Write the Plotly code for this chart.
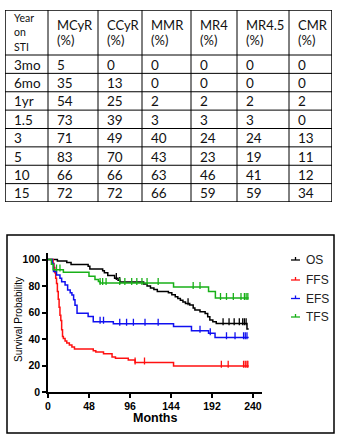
import numpy as np
import plotly.graph_objects as go

# ---------------- table data ----------------
first_header = ["Year", "on", "STI"]
measure_names = ["MCyR", "CCyR", "MMR", "MR4", "MR4.5", "CMR"]
unit_label = "(%)"
years = ["3mo", "6mo", "1yr", "1.5", "3", "5", "10", "15"]
mcyr = [5, 35, 54, 73, 71, 83, 66, 72]
ccyr = [0, 13, 25, 39, 49, 70, 66, 72]
mmr = [0, 0, 2, 3, 40, 43, 63, 66]
mr4 = [0, 0, 2, 3, 24, 23, 46, 59]
mr45 = [0, 0, 2, 3, 24, 19, 41, 59]
cmr = [0, 0, 2, 0, 13, 11, 12, 34]

# ---------------- survival data (months, %) ----------------
os_t = [0, 11, 22, 27, 47, 49, 64, 66, 70, 78, 82, 84, 112, 116, 120, 124, 128, 141, 145,
        149, 152, 155, 158, 161, 166, 170, 172, 178, 184, 187, 189.5, 193, 197, 233, 235]
os_s = [100, 99, 97.8, 96.3, 95, 93, 91.5, 90, 88, 86, 84.5, 83, 81.5, 80, 78.5, 77.5, 76, 75, 73.5,
        72, 70.7, 69.4, 68, 66.9, 65.7, 63.5, 62, 60.6, 59.3, 56.8, 54.3, 53, 51.8, 47.5, 47.5]
os_c = [80, 84, 164, 205, 212, 218, 224, 228, 230, 232]

ffs_t = [0, 6, 7, 8, 9, 10, 11, 12, 13, 14, 15, 16, 17, 18, 20, 22, 25, 28, 31, 53, 56, 65,
         75, 79, 94, 102, 147, 235]
ffs_s = [100, 97, 94, 90, 86, 82, 76, 70, 64, 58, 54, 47, 42, 40.5, 38.5, 37, 35.5, 34, 32.5,
         31.2, 30.3, 28.8, 26.5, 25.5, 24.2, 22.2, 19.7, 19.7]
ffs_c = [102, 113, 203, 211, 229, 231, 233, 234]

efs_t = [0, 5, 6.5, 10, 14, 16, 20, 23, 26, 28, 30, 31.6, 34, 47, 53, 76.5, 147, 168, 188,
         195.6, 235]
efs_s = [100, 97, 91, 88.4, 86, 83.3, 80.8, 77, 75, 73.2, 69.7, 65.6, 59.5, 57, 53, 51.5,
         49.5, 46.2, 44.4, 41.2, 41.2]
efs_c = [61, 65, 84, 92, 100, 113.6, 129, 178, 190, 209, 219, 229, 231, 233]

tfs_t = [0, 4, 6, 18, 48, 55, 59, 61, 147, 188, 196, 235]
tfs_s = [100, 96.5, 92.4, 90.5, 87.4, 85, 83.5, 82.3, 79.3, 76, 71, 71]
tfs_c = [10, 14, 61, 64, 68, 84, 90, 98, 104, 110, 116, 129, 170, 178, 202, 209, 217, 226,
         230, 232, 234]

series = [
    ("OS", os_t, os_s, os_c, "#000000"),
    ("FFS", ffs_t, ffs_s, ffs_c, "#FF1010"),
    ("EFS", efs_t, efs_s, efs_c, "#1010F0"),
    ("TFS", tfs_t, tfs_s, tfs_c, "#18B018"),
]
x_ticks = [0, 48, 96, 144, 192, 240]
y_ticks = [0, 20, 40, 60, 80, 100]

# ---------------- layout constants (pixels) ----------------
W, H = 342, 445
col_w = [43, 50, 44, 49, 46, 52, 43]
header_h = 45
row_h = 18.375


def px(x):
    return x / W


def py(y):
    return 1 - y / H


fig = go.Figure()

# ---------------- table drawn on its own hidden axes ----------------
col_edges = np.concatenate([[0], np.cumsum(col_w)])
n_rows = len(years)
row_edges = header_h + row_h * np.arange(n_rows + 1)
table_w = col_edges[-1]
table_h = row_edges[-1]

annotations = []
shapes = []
tfont_h = dict(family="Lato", size=13, color="#111")
tfont_b = dict(family="Lato", size=13.5, color="#111")


def tcell(text, x, y, font):
    annotations.append(dict(text=str(text), x=x, y=y, xref="x2", yref="y2", xanchor="left",
                            yanchor="middle", showarrow=False, font=font))


for k, word in enumerate(first_header):
    tcell(word, col_edges[0] + 7, 7.5 + 14.5 * k, dict(family="Lato", size=10.5, color="#111"))
for j, name in enumerate(measure_names):
    tcell(name, col_edges[j + 1] + 7, 15, tfont_h)
    tcell(unit_label, col_edges[j + 1] + 7, 29.5, tfont_h)

columns = [years, mcyr, ccyr, mmr, mr4, mr45, cmr]
for j, col in enumerate(columns):
    for i, v in enumerate(col):
        tcell(v, col_edges[j] + 7, (row_edges[i] + row_edges[i + 1]) / 2 + 0.5, tfont_b)

for k, xe in enumerate(col_edges):
    outer = k in (0, len(col_edges) - 1)
    shapes.append(dict(type="line", xref="x2", yref="y2", x0=xe, x1=xe, y0=0, y1=table_h,
                       line=dict(color="black", width=1.5 if outer else 1)))
for k, ye in enumerate(np.concatenate([[0], row_edges])):
    outer = k in (0, n_rows + 1)
    shapes.append(dict(type="line", xref="x2", yref="y2", x0=0, x1=table_w, y0=ye, y1=ye,
                       line=dict(color="black", width=1.5 if outer else 1)))

# invisible anchor trace for table axes
fig.add_trace(go.Scatter(x=[0, table_w], y=[0, table_h], xaxis="x2", yaxis="y2", mode="markers",
                         marker=dict(opacity=0), showlegend=False, hoverinfo="skip"))

# ---------------- survival curves ----------------


def step_at(t, times, vals):
    i = np.searchsorted(np.asarray(times), t, side="right") - 1
    return vals[max(i, 0)]


for name, t, s, c, col in series:
    fig.add_trace(go.Scatter(x=t, y=s, mode="lines", line=dict(color=col, width=1.5, shape="hv"),
                             showlegend=False, hoverinfo="skip"))
    cy = [step_at(ct, t, s) + 1.2 for ct in c]
    fig.add_trace(go.Scatter(x=c, y=cy, mode="markers",
                             marker=dict(symbol="line-ns", size=5, line=dict(color=col, width=1.3)),
                             showlegend=False, hoverinfo="skip"))

axis_font = dict(family="Liberation Sans", size=10.5, color="black", weight="bold")
fig.update_layout(
    xaxis=dict(domain=[px(48), px(261.5)], range=[0, 250], tickvals=x_ticks, automargin=False,
               showline=True, linecolor="black", linewidth=1.5, ticks="outside", ticklen=4,
               tickwidth=1.5, tickcolor="black", showgrid=False, zeroline=False,
               tickfont=axis_font, fixedrange=True),
    yaxis=dict(domain=[py(392), py(253)], range=[0, 105], tickvals=y_ticks, automargin=False,
               showline=True, linecolor="black", linewidth=1.5, ticks="outside", ticklen=4,
               tickwidth=1.5, tickcolor="black", showgrid=False, zeroline=False,
               tickfont=axis_font, fixedrange=True),
    xaxis2=dict(domain=[px(5), px(5) + table_w / W], range=[0, table_w], anchor="y2",
                visible=False, automargin=False, fixedrange=True),
    yaxis2=dict(domain=[py(10 + table_h), py(10)], range=[table_h, 0], anchor="x2",
                visible=False, automargin=False, fixedrange=True),
)

annotations += [
    dict(text="Months", x=px(155), y=py(417.5), xref="paper", yref="paper", showarrow=False,
         xanchor="center", yanchor="middle",
         font=dict(family="Liberation Sans", size=12.5, color="black", weight="bold")),
    dict(text="Survival Probability", x=px(18), y=py(320), xref="paper", yref="paper",
         showarrow=False, textangle=-90, xanchor="center", yanchor="middle",
         font=dict(family="Liberation Sans", size=10, color="black")),
]
shapes.append(dict(type="rect", xref="paper", yref="paper", x0=px(7), x1=px(334), y0=py(433),
                   y1=py(235), line=dict(color="black", width=1.5)))

leg_y = [260, 280, 298.5, 317]
for (name, t, s, c, col), ly in zip(series, leg_y):
    shapes.append(dict(type="line", xref="paper", yref="paper", x0=px(291), x1=px(300),
                       y0=py(ly), y1=py(ly), line=dict(color=col, width=1.3)))
    shapes.append(dict(type="line", xref="paper", yref="paper", x0=px(295.5), x1=px(295.5),
                       y0=py(ly), y1=py(ly - 3), line=dict(color=col, width=1.3)))
    annotations.append(dict(text=name, x=px(304), y=py(ly), xref="paper", yref="paper",
                            xanchor="left", yanchor="middle", showarrow=False,
                            font=dict(family="Liberation Sans", size=12, color="#222")))

fig.update_layout(width=W, height=H, margin=dict(l=0, r=0, t=0, b=0),
                  paper_bgcolor="white", plot_bgcolor="white",
                  annotations=annotations, shapes=shapes, showlegend=False)

fig.write_html("out.html", config={"displayModeBar": False},
               post_script="document.body.style.margin='0';document.body.style.overflow='hidden';")
